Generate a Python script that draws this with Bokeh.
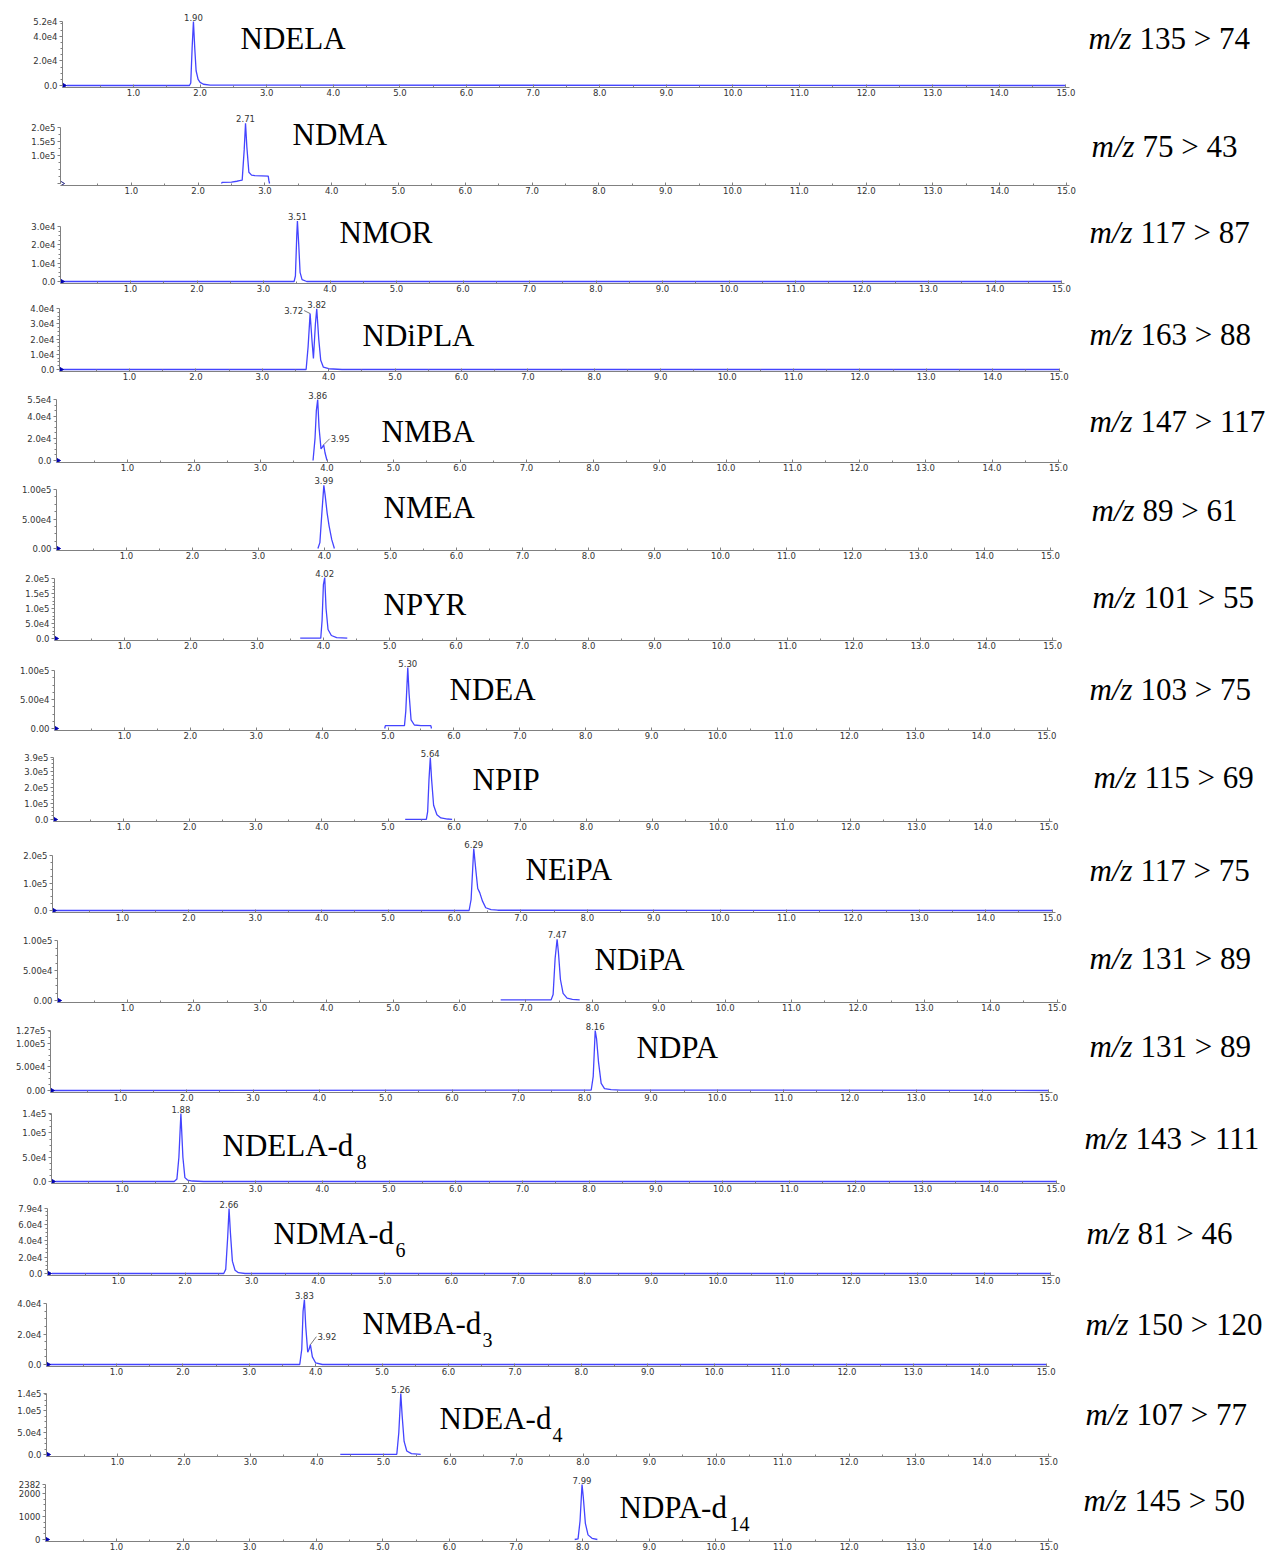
import math
from bokeh.plotting import figure
from bokeh.models import Range1d, FixedTicker, PrintfTickFormatter, Label
from bokeh.embed import file_html
from bokeh.resources import INLINE

# ---------------- data (retention time in min, intensity in counts) ----------------
compounds = ["NDELA", "NDMA", "NMOR", "NDiPLA", "NMBA", "NMEA", "NPYR", "NDEA", "NPIP",
             "NEiPA", "NDiPA", "NDPA", "NDELA-d", "NDMA-d", "NMBA-d", "NDEA-d", "NDPA-d"]
subscripts = ["", "", "", "", "", "", "", "", "", "", "", "", "8", "6", "3", "4", "14"]
transitions = ["135 > 74", "75 > 43", "117 > 87", "163 > 88", "147 > 117", "89 > 61",
               "101 > 55", "103 > 75", "115 > 69", "117 > 75", "131 > 89", "131 > 89",
               "143 > 111", "81 > 46", "150 > 120", "107 > 77", "145 > 50"]

ndela_t = [0.0, 1.84, 1.86, 1.88, 1.90, 1.92, 1.94, 1.97, 2.00, 2.05, 2.15, 15.0]
ndela_v = [0, 0, 2000, 30000, 52000, 30000, 12000, 5000, 2500, 1000, 300, 0]
ndma_t = [2.35, 2.36, 2.50, 2.58, 2.62, 2.66, 2.69, 2.71, 2.73, 2.76, 2.80, 2.85, 2.95, 3.05, 3.06, 3.07]
ndma_v = [0, 4000, 5000, 8000, 10000, 12000, 120000, 215000, 130000, 40000, 30000, 28000, 27000, 26000, 10000, 0]
nmor_t = [0.0, 3.46, 3.48, 3.50, 3.51, 3.53, 3.55, 3.58, 3.65, 15.0]
nmor_v = [0, 0, 3000, 25000, 33000, 20000, 5000, 1000, 0, 0]
ndipla_t = [0.0, 3.66, 3.69, 3.72, 3.75, 3.77, 3.80, 3.82, 3.85, 3.88, 3.92, 4.0, 4.2, 15.0]
ndipla_v = [0, 0, 15000, 36700, 18000, 7200, 30000, 39800, 20000, 6000, 1500, 500, 0, 0]
nmba_t = [3.79, 3.82, 3.84, 3.86, 3.88, 3.91, 3.93, 3.95, 3.97, 4.00]
nmba_v = [0, 20000, 45000, 55000, 30000, 10500, 12000, 14200, 7000, 0]
nmea_t = [3.90, 3.93, 3.96, 3.99, 4.01, 4.04, 4.07, 4.11, 4.15]
nmea_v = [0, 10000, 60000, 107000, 90000, 60000, 38000, 15000, 0]
npyr_t = [3.65, 3.96, 3.98, 4.00, 4.02, 4.04, 4.07, 4.12, 4.20, 4.36]
npyr_v = [1000, 1000, 60000, 180000, 203000, 100000, 30000, 10000, 3000, 1000]
ndea_t = [4.95, 4.96, 5.10, 5.25, 5.27, 5.30, 5.32, 5.35, 5.40, 5.50, 5.65, 5.66]
ndea_v = [0, 5000, 5000, 5000, 30000, 105000, 60000, 15000, 6000, 5000, 5000, 0]
npip_t = [5.26, 5.58, 5.60, 5.62, 5.64, 5.66, 5.69, 5.74, 5.80, 5.90, 5.97]
npip_v = [1000, 1000, 50000, 250000, 390000, 250000, 90000, 30000, 10000, 3000, 1000]
neipa_t = [0.0, 6.22, 6.25, 6.28, 6.29, 6.32, 6.35, 6.38, 6.42, 6.47, 6.55, 6.65, 15.0]
neipa_v = [0, 0, 40000, 180000, 225000, 150000, 80000, 65000, 35000, 10000, 3000, 1000, 0]
ndipa_t = [6.62, 7.38, 7.41, 7.44, 7.47, 7.49, 7.52, 7.56, 7.62, 7.70, 7.81]
ndipa_v = [1000, 1000, 10000, 70000, 102000, 80000, 35000, 12000, 4000, 2000, 1000]
ndpa_t = [0.0, 7.83, 8.10, 8.13, 8.16, 8.18, 8.21, 8.25, 8.30, 8.40, 8.54, 15.0]
ndpa_v = [0, 1000, 1000, 30000, 127000, 110000, 60000, 15000, 4000, 2000, 1000, 0]
ndela_d8_t = [0.0, 1.78, 1.82, 1.85, 1.88, 1.91, 1.94, 1.98, 2.05, 2.22, 15.0]
ndela_d8_v = [0, 0, 5000, 50000, 140000, 50000, 8000, 3000, 1000, 0, 0]
ndma_d6_t = [0.0, 2.58, 2.61, 2.64, 2.66, 2.68, 2.71, 2.75, 2.80, 2.90, 15.0]
ndma_d6_v = [0, 0, 5000, 45000, 79000, 50000, 15000, 4000, 1000, 0, 0]
nmba_d3_t = [0.0, 3.76, 3.79, 3.81, 3.83, 3.85, 3.88, 3.90, 3.92, 3.95, 4.0, 4.1, 15.0]
nmba_d3_v = [0, 0, 10000, 35000, 42600, 25000, 8000, 10000, 13000, 5000, 1000, 0, 0]
ndea_d4_t = [4.35, 5.20, 5.23, 5.26, 5.28, 5.31, 5.35, 5.42, 5.56]
ndea_d4_v = [500, 500, 50000, 140000, 90000, 30000, 8000, 2000, 500]
ndpa_d14_t = [7.88, 7.93, 7.96, 7.99, 8.01, 8.04, 8.08, 8.14, 8.22]
ndpa_d14_v = [0, 30, 800, 2382, 1800, 700, 200, 50, 0]

traces_t = [ndela_t, ndma_t, nmor_t, ndipla_t, nmba_t, nmea_t, npyr_t, ndea_t, npip_t,
            neipa_t, ndipa_t, ndpa_t, ndela_d8_t, ndma_d6_t, nmba_d3_t, ndea_d4_t, ndpa_d14_t]
traces_v = [ndela_v, ndma_v, nmor_v, ndipla_v, nmba_v, nmea_v, npyr_v, ndea_v, npip_v,
            neipa_v, ndipa_v, ndpa_v, ndela_d8_v, ndma_d6_v, nmba_d3_v, ndea_d4_v, ndpa_d14_v]

peak_labels = [["1.90"], ["2.71"], ["3.51"], ["3.72", "3.82"], ["3.86", "3.95"], ["3.99"],
               ["4.02"], ["5.30"], ["5.64"], ["6.29"], ["7.47"], ["8.16"], ["1.88"],
               ["2.66"], ["3.83", "3.92"], ["5.26"], ["7.99"]]

y_ticks = [[0, 20000, 40000, 52000], [0, 100000, 150000, 200000], [0, 10000, 20000, 30000],
           [0, 10000, 20000, 30000, 40000], [0, 20000, 40000, 55000], [0, 50000, 100000],
           [0, 50000, 100000, 150000, 200000], [0, 50000, 100000],
           [0, 100000, 200000, 300000, 390000], [0, 100000, 200000], [0, 50000, 100000],
           [0, 50000, 100000, 127000], [0, 50000, 100000, 140000],
           [0, 20000, 40000, 60000, 79000], [0, 20000, 40000], [0, 50000, 100000, 140000],
           [0, 1000, 2000, 2382]]
y_tick_labels = [["0.0", "2.0e4", "4.0e4", "5.2e4"], ["", "1.0e5", "1.5e5", "2.0e5"],
                 ["0.0", "1.0e4", "2.0e4", "3.0e4"], ["0.0", "1.0e4", "2.0e4", "3.0e4", "4.0e4"],
                 ["0.0", "2.0e4", "4.0e4", "5.5e4"], ["0.00", "5.00e4", "1.00e5"],
                 ["0.0", "5.0e4", "1.0e5", "1.5e5", "2.0e5"], ["0.00", "5.00e4", "1.00e5"],
                 ["0.0", "1.0e5", "2.0e5", "3.0e5", "3.9e5"], ["0.0", "1.0e5", "2.0e5"],
                 ["0.00", "5.00e4", "1.00e5"], ["0.00", "5.00e4", "1.00e5", "1.27e5"],
                 ["0.0", "5.0e4", "1.0e5", "1.4e5"], ["0.0", "2.0e4", "4.0e4", "6.0e4", "7.9e4"],
                 ["0.0", "2.0e4", "4.0e4"], ["0.0", "5.0e4", "1.0e5", "1.4e5"],
                 ["0", "1000", "2000", "2382"]]
x_ticks = [1, 2, 3, 4, 5, 6, 7, 8, 9, 10, 11, 12, 13, 14, 15]

# ---------------- layout (page pixels) ----------------
base_y = [85, 183, 281, 370, 461, 549, 640, 730, 821, 912, 1002, 1093, 1184, 1276, 1368, 1458, 1543]
top_y = [21, 127, 226, 309, 400, 490, 580, 672, 759, 857, 942, 1033, 1116, 1211, 1307, 1397, 1488]
x0_px = [66.4, 64, 63.5, 62.6, 60.5, 60, 57.7, 58, 57, 55.6, 60.6, 53.7, 55, 51.4, 49.6, 50.5, 49.4]
x_scale = [66.6, 66.8, 66.5, 66.4, 66.5, 66, 66.3, 65.9, 66.1, 66.4, 66.4, 66.3, 66.7, 66.6, 66.4, 66.5, 66.6]
name_pos = [(240, 37), (292, 133), (339, 231), (362, 335), (381, 431), (383, 507), (383, 605),
            (449, 690), (472, 780), (525, 870), (594, 960), (636, 1049), (222, 1147),
            (273, 1235), (362, 1326), (439, 1421), (619, 1510)]
sub_pos = {12: (356, 1163), 13: (395, 1251), 14: (482, 1342), 15: (552, 1437), 16: (729, 1526)}
mz_pos = [(1088, 37), (1091, 145), (1089, 231), (1089, 334), (1089, 421), (1091, 510),
          (1092, 598), (1089, 690), (1093, 778), (1089, 871), (1089, 959), (1089, 1048),
          (1084, 1140), (1086, 1235), (1085, 1327), (1085, 1417), (1083, 1503)]
# special peak label placement: (dx px, dy px, align)
peak_offsets = {"3.72": (-7, 0, "right"), "3.95": (7, 3, "left"), "3.92": (7, 5, "left")}

TRACE = "#4444ff"
AXIS = "#808080"
TICKTXT = "#333333"
TICKFONT = "DejaVu Sans"
B = 13
OFF_TOTAL = 4
CANVAS_W = 1270

figs = []
cur_top = 0
for i in range(len(compounds)):
    off = round(i * OFF_TOTAL / 16)
    b = base_y[i] - off
    t = top_y[i] - off
    fb = b + 2
    cb = fb + B
    h = cb - cur_top
    ymax_tick = y_ticks[i][-1]
    vpp = ymax_tick / (b - t)
    y_end = (b - cur_top) * vpp
    y_start = -2 * vpp
    s = x_scale[i]
    x0 = x0_px[i]
    L = int(round(x0 - 4))
    x_start = (L - x0) / s
    x_end = (CANVAS_W - x0) / s

    p = figure(width=CANVAS_W, height=h, x_range=Range1d(x_start, x_end),
               y_range=Range1d(y_start, y_end), output_backend="svg",
               toolbar_location=None, min_border_left=L, min_border_right=0,
               min_border_top=0, min_border_bottom=B)
    p.outline_line_color = None
    p.grid.visible = False
    p.background_fill_color = "white"

    # x axis
    xa = p.xaxis[0]
    xa.ticker = FixedTicker(ticks=x_ticks, minor_ticks=[k - 0.5 for k in x_ticks])
    xa.formatter = PrintfTickFormatter(format="%.1f")
    xa.bounds = (x_start, 15.05)
    xa.axis_line_color = AXIS
    xa.major_tick_line_color = AXIS
    xa.minor_tick_line_color = AXIS
    xa.major_tick_in = 3
    xa.major_tick_out = 0
    xa.minor_tick_in = 2
    xa.minor_tick_out = 0
    xa.major_label_standoff = 1
    xa.major_label_text_font = TICKFONT
    xa.major_label_text_font_size = "8.5px"
    xa.major_label_text_color = TICKTXT

    # y axis
    ya = p.yaxis[0]
    yt = y_ticks[i]
    step = yt[1] - yt[0] if len(yt) > 1 else yt[-1]
    minor = []
    k = 0
    while k * step / 4 < ymax_tick:
        minor.append(k * step / 4)
        k += 1
    ya.ticker = FixedTicker(ticks=yt, minor_ticks=minor)
    ya.major_label_overrides = {tv: lab for tv, lab in zip(yt, y_tick_labels[i])}
    ya.bounds = (0, ymax_tick)
    ya.axis_line_color = AXIS
    ya.major_tick_line_color = AXIS
    ya.minor_tick_line_color = AXIS
    ya.major_tick_out = 3
    ya.major_tick_in = 0
    ya.minor_tick_out = 2
    ya.minor_tick_in = 0
    ya.major_label_standoff = 2
    ya.major_label_text_font = TICKFONT
    ya.major_label_text_font_size = "8.5px"
    ya.major_label_text_color = TICKTXT

    # trace
    p.line(traces_t[i], traces_v[i], line_color=TRACE, line_width=1.3)

    # origin marker
    if i == 1:
        p.scatter([x_start], [0], marker="triangle", angle=-math.pi / 2, size=7,
                  line_color="#202080", fill_color="white")
    else:
        p.scatter([x_start], [0], marker="triangle", angle=-math.pi / 2, size=7,
                  line_color="#0000b0", fill_color="#0000b0")

    def dx(px):
        return (px - x0) / s

    def dy(py):
        return (b - (py - off)) * vpp

    # peak labels
    for lab in peak_labels[i]:
        tt = float(lab)
        ts = traces_t[i]
        j = min(range(len(ts)), key=lambda q: abs(ts[q] - tt))
        val = traces_v[i][j]
        ox, oy, al = peak_offsets.get(lab, (0, 1, "center"))
        if lab in peak_offsets:
            p.segment(x0=[tt], y0=[val], x1=[tt + (ox - (1 if ox > 0 else -1)) / s],
                      y1=[val + (oy + 3) * vpp], line_color="#555555", line_width=0.8)
        p.add_layout(Label(x=tt + ox / s, y=val + oy * vpp, text=lab,
                           text_font=TICKFONT, text_font_size="8.5px",
                           text_align=al, text_baseline="bottom", text_color="#333333"))

    # compound name
    nx, ny = name_pos[i]
    p.add_layout(Label(x=dx(nx), y=dy(ny + 1), text=compounds[i],
                       text_font="Liberation Serif", text_font_size="31px",
                       text_align="left", text_baseline="middle", text_color="black"))
    if i in sub_pos:
        sx, sy = sub_pos[i]
        p.add_layout(Label(x=dx(sx), y=dy(sy + 1), text=subscripts[i],
                           text_font="Liberation Serif", text_font_size="20px",
                           text_align="left", text_baseline="middle", text_color="black"))

    # m/z transition
    mx, my = mz_pos[i]
    p.add_layout(Label(x=dx(mx), y=dy(my + 1), text="m/z",
                       text_font="Liberation Serif", text_font_size="31px",
                       text_font_style="italic",
                       text_align="left", text_baseline="middle", text_color="black"))
    p.add_layout(Label(x=dx(mx + 51), y=dy(my + 1), text=transitions[i],
                       text_font="Liberation Serif", text_font_size="31px",
                       text_align="left", text_baseline="middle", text_color="black"))

    figs.append(p)
    cur_top = cb

# each panel is its own root so that the frames are not aligned to each other
open("out.html", "w").write(file_html(figs, INLINE))
